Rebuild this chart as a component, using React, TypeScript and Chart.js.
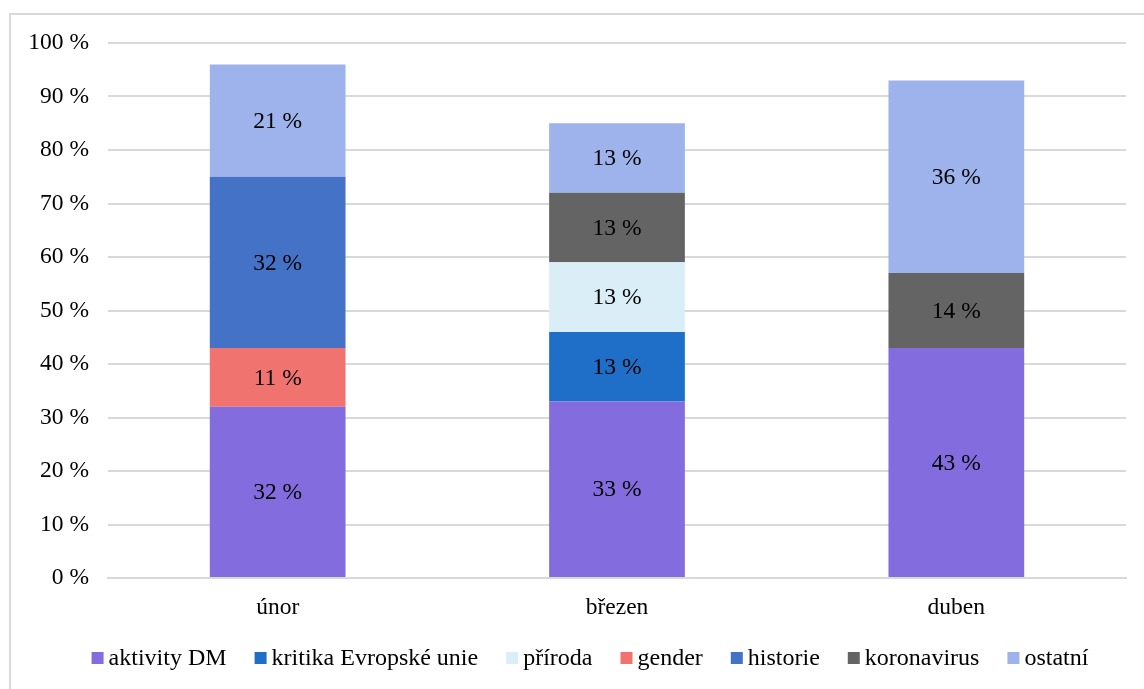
import React, { useEffect, useRef } from "react";
import { Chart, registerables } from "chart.js";

Chart.register(...registerables);

const categories = ["únor", "březen", "duben"];
const aktivityDM = [32, 33, 43];
const kritikaEU = [0, 13, 0];
const priroda = [0, 13, 0];
const gender = [11, 0, 0];
const historie = [32, 0, 0];
const koronavirus = [0, 13, 14];
const ostatni = [21, 13, 36];
const yTicks = [0, 10, 20, 30, 40, 50, 60, 70, 80, 90, 100];

const FONT = "'Liberation Serif', 'Times New Roman', serif";
const FS = 23.5;
const LEGEND_FS = 24;

const labelPlugin = {
  id: "barLabels",
  afterDatasetsDraw(chart: any) {
    const ctx = chart.ctx;
    ctx.save();
    ctx.font = `${FS}px ${FONT}`;
    ctx.fillStyle = "#000";
    ctx.textAlign = "center";
    ctx.textBaseline = "middle";
    chart.data.datasets.forEach((ds: any, i: number) => {
      const meta = chart.getDatasetMeta(i);
      meta.data.forEach((bar: any, j: number) => {
        const v = ds.data[j];
        if (!v) return;
        const p = bar.getProps(["x", "y", "base"], true);
        ctx.fillText(`${v} %`, p.x, (p.y + p.base) / 2 + 1);
      });
    });
    ctx.restore();
  },
};

const legendPlugin = {
  id: "customLegend",
  afterDraw(chart: any) {
    const ctx = chart.ctx;
    ctx.save();
    ctx.font = `${LEGEND_FS}px ${FONT}`;
    ctx.textBaseline = "middle";
    ctx.textAlign = "left";
    const box = 12;
    const gap = 5;
    const spacing = 28;
    const items = chart.data.datasets.map((ds: any) => ({
      label: ds.label,
      color: ds.backgroundColor,
      w: ctx.measureText(ds.label).width,
    }));
    const total =
      items.reduce((a: number, it: any) => a + box + gap + it.w, 0) + spacing * (items.length - 1);
    let x = 590 - total / 2;
    const cy = chart.height - 31;
    items.forEach((it: any) => {
      ctx.fillStyle = it.color;
      ctx.fillRect(x, cy - box / 2, box, box);
      ctx.fillStyle = "#000";
      ctx.fillText(it.label, x + box + gap, cy + 1);
      x += box + gap + it.w + spacing;
    });
    ctx.restore();
  },
};

export default function App() {
  const ref = useRef<HTMLCanvasElement>(null);
  useEffect(() => {
    if (!ref.current) return;
    const mk = (label: string, data: number[], color: string) => ({
      label,
      data,
      backgroundColor: color,
      borderWidth: 0,
      categoryPercentage: 0.4,
      barPercentage: 1,
    });
    const chart = new Chart(ref.current, {
      type: "bar",
      data: {
        labels: categories,
        datasets: [
          mk("aktivity DM", aktivityDM, "#836DDE"),
          mk("kritika Evropské unie", kritikaEU, "#1F6FC9"),
          mk("příroda", priroda, "#DAEEF8"),
          mk("gender", gender, "#F07370"),
          mk("historie", historie, "#4472C6"),
          mk("koronavirus", koronavirus, "#646464"),
          mk("ostatní", ostatni, "#9EB3EB"),
        ],
      },
      options: {
        animation: false,
        responsive: false,
        layout: { padding: { top: 43, right: 18, bottom: 50, left: 0 } },
        scales: {
          x: {
            stacked: true,
            grid: { display: false, drawTicks: false },
            border: { display: true, color: "#d9d9d9", width: 2 },
            ticks: { color: "#000", font: { family: FONT, size: FS }, padding: 16 },
            afterFit(s: any) {
              s.height = 61;
            },
          },
          y: {
            stacked: true,
            min: 0,
            max: 100,
            afterBuildTicks(s: any) {
              s.ticks = yTicks.map((v) => ({ value: v }));
            },
            grid: { color: "#d9d9d9", lineWidth: 2, drawTicks: false },
            border: { display: false },
            ticks: {
              color: "#000",
              font: { family: FONT, size: FS },
              padding: 19,
              callback: (v: any) => `${v} %`,
            },
            afterFit(s: any) {
              s.width = 108;
            },
          },
        },
        plugins: {
          legend: { display: false },
          tooltip: { enabled: false },
        },
      },
      plugins: [labelPlugin, legendPlugin],
    } as any);
    return () => chart.destroy();
  }, []);
  return (
    <div style={{ position: "absolute", left: 0, top: 0, width: 1144, height: 689, overflow: "hidden", background: "#fff" }}>
      <div
        style={{
          position: "absolute",
          left: 9,
          top: 13,
          width: 1300,
          height: 900,
          border: "2px solid #d9d9d9",
        }}
      />
      <canvas ref={ref} width={1144} height={689} style={{ position: "absolute", left: 0, top: 0 }} />
    </div>
  );
}
